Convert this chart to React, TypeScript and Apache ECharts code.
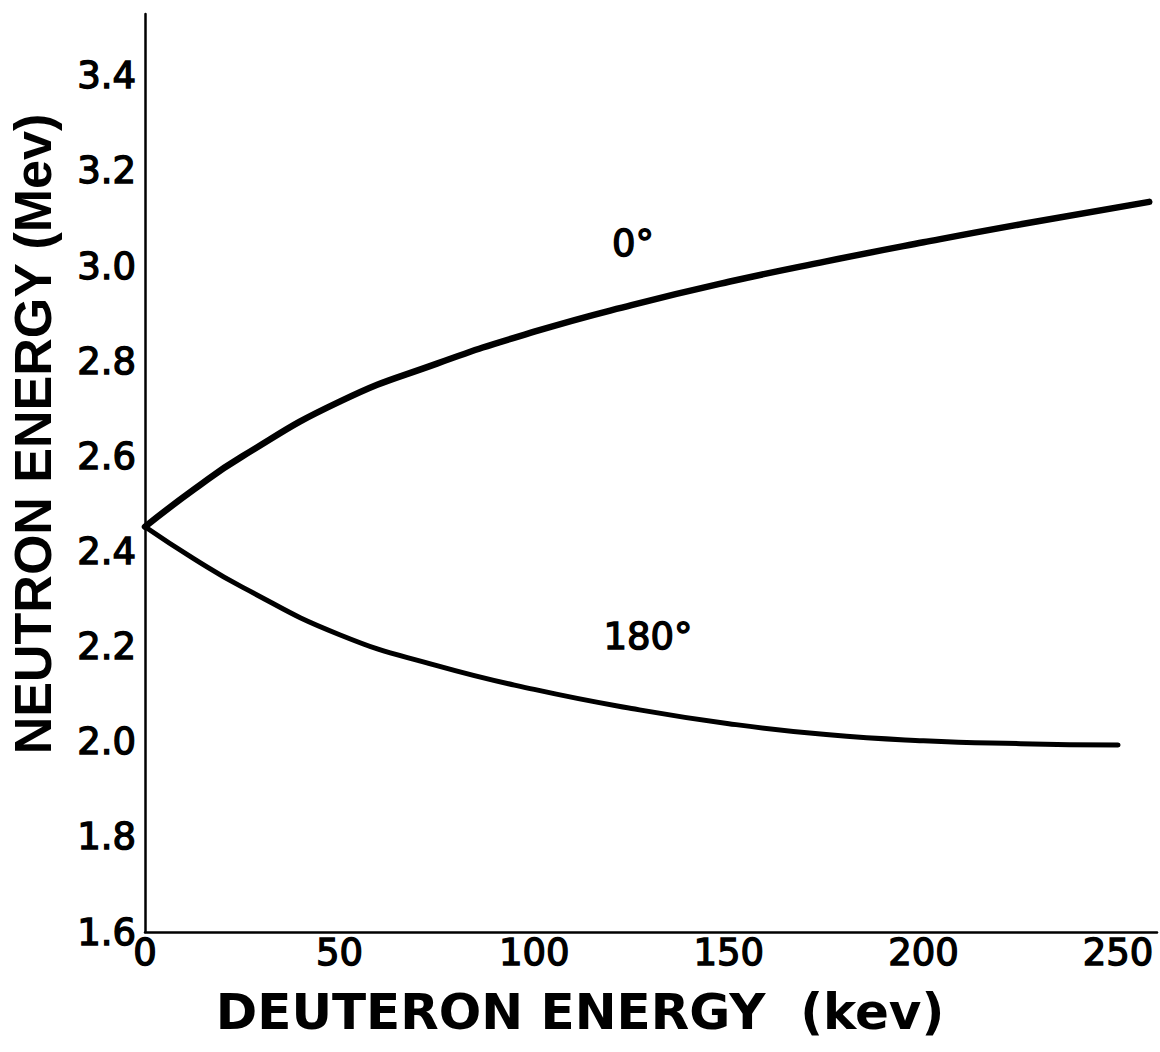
import React, { useEffect, useRef } from "react";
import * as echarts from "echarts";

const xTicks = [0, 50, 100, 150, 200, 250];
const yTicks = [1.6, 1.8, 2.0, 2.2, 2.4, 2.6, 2.8, 3.0, 3.2, 3.4];
const deuteron0 = [0, 12.5, 25, 50, 75, 100, 125, 150, 175, 200, 225, 258];
const neutron0 = [2.452, 2.53, 2.6, 2.715, 2.795, 2.862, 2.918, 2.967, 3.01, 3.05, 3.088, 3.135];
const deuteron180 = [0, 12.5, 25, 50, 75, 100, 125, 150, 175, 200, 225, 250];
const neutron180 = [2.452, 2.385, 2.325, 2.225, 2.16, 2.11, 2.07, 2.038, 2.015, 2.002, 1.996, 1.993];
const xTitle = "DEUTERON ENERGY  (kev)";
const yTitle = "NEUTRON ENERGY (Mev)";
const label0 = "0°";
const label180 = "180°";

const TICK_FONT = "'DejaVu Sans', sans-serif";
const TITLE_FONT = "'Liberation Sans', Arial, sans-serif";

export default function App() {
  const ref = useRef<HTMLDivElement>(null);
  useEffect(() => {
    if (!ref.current) return;
    const chart = echarts.init(ref.current, undefined, { renderer: "svg" });
    const isTick = (arr: number[], v: number) => arr.some((t) => Math.abs(t - v) < 1e-6);
    const tickLabel = {
      color: "#000",
      fontFamily: TICK_FONT,
      fontWeight: "normal",
      fontSize: 37,
      textBorderColor: "#000",
      textBorderWidth: 1.4,
    };
    chart.setOption({
      animation: false,
      backgroundColor: "#ffffff",
      grid: { left: 145, top: 14, right: 0, bottom: 120 },
      xAxis: {
        type: "value",
        min: 0,
        max: 260,
        interval: 50,
        axisLine: { show: true, lineStyle: { color: "#000", width: 2.5 } },
        axisTick: { show: false },
        splitLine: { show: false },
        axisLabel: {
          ...tickLabel,
          margin: 2,
          formatter: (v: number) => (isTick(xTicks, v) ? String(v) : ""),
        },
      },
      yAxis: {
        type: "value",
        min: 1.6,
        max: 3.53,
        interval: 0.2,
        axisLine: { show: true, lineStyle: { color: "#000", width: 2.5 } },
        axisTick: { show: false },
        splitLine: { show: false },
        axisLabel: {
          ...tickLabel,
          margin: 9,
          formatter: (v: number) => (isTick(yTicks, v) ? v.toFixed(1) : ""),
        },
      },
      series: [
        {
          type: "line",
          smooth: true,
          showSymbol: false,
          lineStyle: { color: "#000", width: 6.5, cap: "round" },
          data: deuteron0.map((x, i) => [x, neutron0[i]]),
        },
        {
          type: "line",
          smooth: true,
          showSymbol: false,
          lineStyle: { color: "#000", width: 5, cap: "round" },
          data: deuteron180.map((x, i) => [x, neutron180[i]]),
        },
      ],
      graphic: [
        {
          type: "text",
          x: 580,
          y: 1012,
          style: {
            text: xTitle,
            font: `bold 50px 'DejaVu Sans', sans-serif`,
            fill: "#000",
            textAlign: "center",
            textVerticalAlign: "middle",
          },
        },
        {
          type: "text",
          x: 33,
          y: 434,
          rotation: Math.PI / 2,
          style: {
            text: yTitle,
            font: `bold 52px ${TITLE_FONT}`,
            fill: "#000",
            textAlign: "center",
            textVerticalAlign: "middle",
          },
        },
        {
          type: "text",
          x: 633,
          y: 243,
          style: {
            text: label0,
            font: `37px ${TICK_FONT}`,
            fill: "#000",
            stroke: "#000",
            lineWidth: 1.4,
            textAlign: "center",
            textVerticalAlign: "middle",
          },
        },
        {
          type: "text",
          x: 648,
          y: 636,
          style: {
            text: label180,
            font: `37px ${TICK_FONT}`,
            fill: "#000",
            stroke: "#000",
            lineWidth: 1.4,
            textAlign: "center",
            textVerticalAlign: "middle",
          },
        },
      ],
    });
    return () => chart.dispose();
  }, []);
  return (
    <div
      ref={ref}
      style={{ position: "fixed", left: 0, top: 0, width: 1160, height: 1052 }}
    />
  );
}
